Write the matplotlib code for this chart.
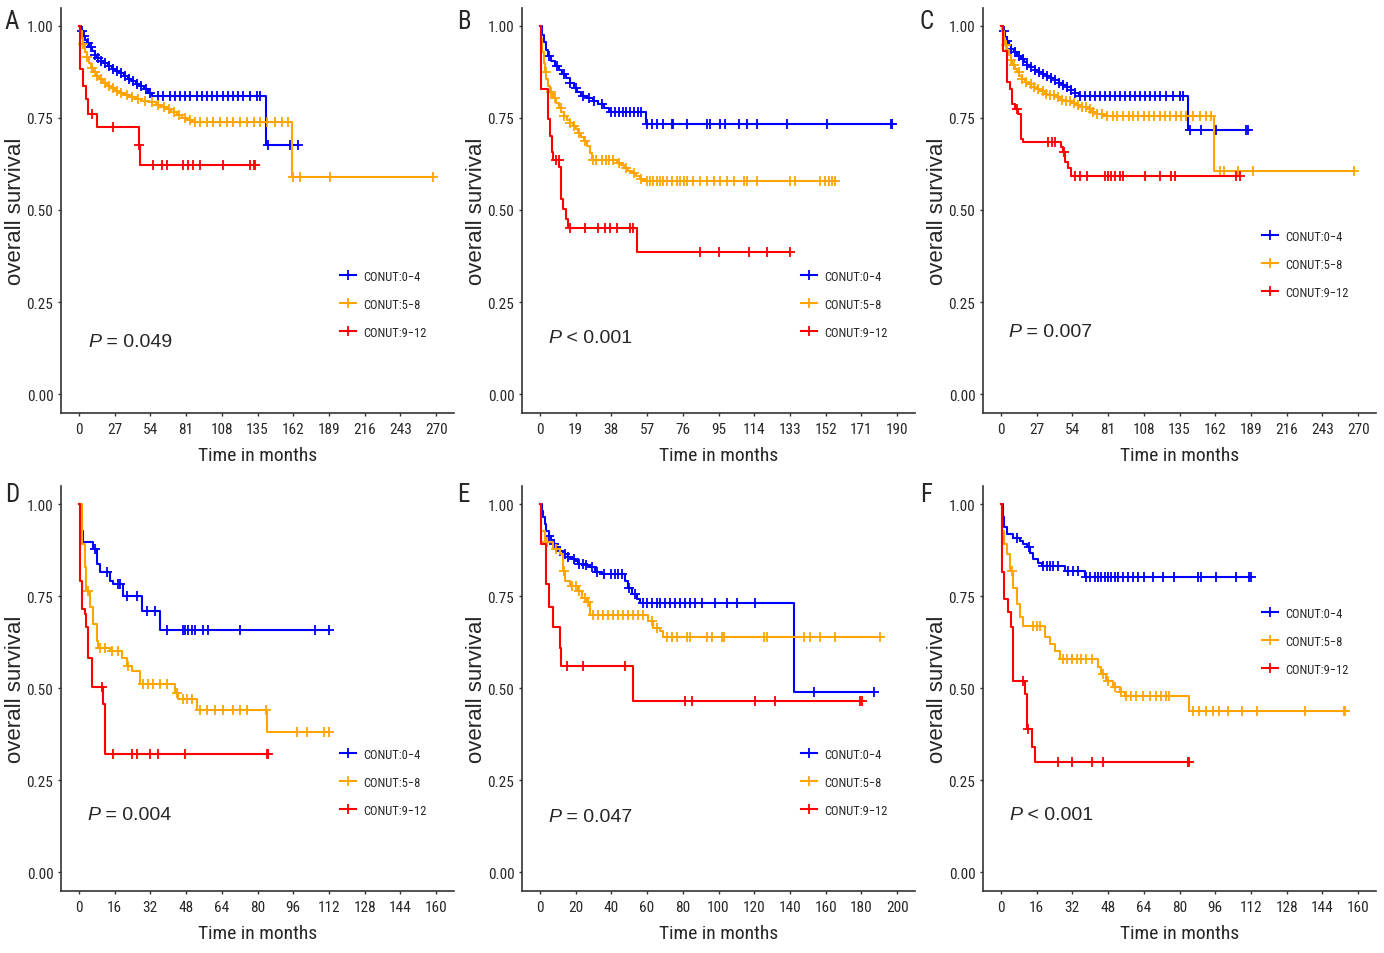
import numpy as np
import matplotlib
matplotlib.use('Agg')
import matplotlib.pyplot as plt
from matplotlib.lines import Line2D

NARROW = ['Roboto Condensed', 'Liberation Sans', 'DejaVu Sans']
REGULAR = ['Liberation Sans', 'DejaVu Sans']
plt.rcParams['font.family'] = NARROW

# ---- data: step times (months), survival after each step, censor times ----
# Panel A
A_t_04 = [0, 1.5, 3, 4.5, 6, 8, 10, 12, 14, 16.5, 19, 22, 25, 28, 31, 34, 37, 40, 43, 46, 49, 52, 55, 141.3]
A_s_04 = [1, 0.985, 0.972, 0.962, 0.953, 0.943, 0.932, 0.922, 0.913, 0.905, 0.898, 0.890, 0.884, 0.878,
          0.871, 0.864, 0.857, 0.850, 0.843, 0.836, 0.828, 0.819, 0.809, 0.676]
A_c_04 = [2, 4, 7, 9.5, 12, 14.5, 17, 20, 23, 26, 29, 32, 35, 38, 41, 44, 47, 51, 54, 60, 63.8, 68.9, 72.7,
          76.4, 80.2, 84, 89, 92.8, 96.6, 100.4, 104.2, 109.2, 113, 116.8, 120.6, 124.4, 129.4, 134.5, 137,
          143.3, 159.7, 165.3]
A_t_58 = [0, 1, 2, 3, 4.5, 6, 7.5, 9, 11, 13, 15.5, 18, 21, 24, 27, 30, 34, 38, 43, 48, 53, 58, 62, 66, 70,
          74, 78, 82, 86, 161]
A_s_58 = [1, 0.985, 0.968, 0.950, 0.930, 0.915, 0.900, 0.886, 0.875, 0.864, 0.855, 0.846, 0.838, 0.831,
          0.824, 0.818, 0.812, 0.806, 0.802, 0.797, 0.792, 0.786, 0.780, 0.773, 0.766, 0.759, 0.751, 0.745,
          0.738, 0.590]
A_c_58 = [3.5, 6.5, 10, 12, 14, 17, 19.5, 22.5, 25.5, 28.5, 32, 36, 40, 45, 50, 55, 60, 64, 68, 72, 76, 80,
          84, 87.8, 91.6, 96.6, 101.7, 106.7, 111.8, 116.8, 121.9, 126.9, 132, 137, 142, 148.4, 153.4, 158.4,
          162.2, 167.3, 190, 267.7]
A_t_912 = [0, 0.8, 2.8, 5.3, 7.1, 13.9, 45.5, 46.5]
A_s_912 = [1, 0.883, 0.838, 0.802, 0.761, 0.725, 0.677, 0.621]
A_c_912 = [10, 26, 45.8, 56.3, 62.6, 66.4, 79, 82.8, 86.5, 91.6, 109.2, 129.4, 132, 133.2]

# Panel B
B_t_04 = [0, 1, 2, 3, 4.5, 6, 8, 10, 12, 14, 16, 18, 20, 22, 25, 28, 31, 34, 37, 56.5]
B_s_04 = [1, 0.975, 0.955, 0.935, 0.918, 0.905, 0.892, 0.880, 0.870, 0.858, 0.845, 0.832, 0.820, 0.810,
          0.803, 0.796, 0.788, 0.778, 0.765, 0.734]
B_c_04 = [5, 9, 13, 16, 19, 23, 26, 29, 33, 38, 40, 42, 44, 46, 48, 50, 52, 54, 56.8, 59.5, 62.2, 65.7,
          70.2, 71, 78.1, 88.8, 90.6, 95.9, 98.6, 105.7, 110.1, 115.4, 131.4, 152.7, 186.5, 187.4]
B_t_58 = [0, 0.7, 1.4, 2, 2.7, 3.5, 4.4, 5.5, 7, 8.5, 10, 11.5, 13, 14.5, 16, 17.5, 19, 20.5, 22, 23.5, 25,
          26.5, 27.5, 41, 43, 45, 47, 49, 51, 53, 55]
B_s_58 = [1, 0.965, 0.930, 0.900, 0.875, 0.855, 0.838, 0.820, 0.803, 0.790, 0.778, 0.766, 0.755, 0.745,
          0.737, 0.729, 0.720, 0.710, 0.699, 0.688, 0.673, 0.655, 0.636, 0.628, 0.621, 0.614, 0.607, 0.600,
          0.592, 0.585, 0.578]
B_c_58 = [3, 6, 8, 11, 13, 16, 18, 21, 24, 28.5, 30, 33, 35, 37, 39, 42, 46, 50, 54, 56.8, 58.6, 60.4, 62.2,
          63.9, 65.7, 67.5, 70.2, 72.8, 74.6, 76.4, 78.1, 81.7, 85.2, 88.8, 92.4, 95.9, 99.5, 103, 108.3,
          110.1, 115.4, 133.2, 135.9, 149.2, 151.9, 153.6, 155.4, 157.2]
B_t_912 = [0, 0.4, 4.4, 5.3, 6.2, 7.1, 10.3, 11.5, 12.4, 13.9, 15.1, 51.9]
B_s_912 = [1, 0.829, 0.748, 0.700, 0.658, 0.635, 0.617, 0.531, 0.504, 0.476, 0.452, 0.387]
B_c_912 = [8.5, 10, 16, 24, 31.1, 34.6, 37.3, 40.8, 48, 49.7, 85.2, 95, 111, 120.8, 132.8]

# Panel C
C_t_04 = [0, 1.5, 3, 4.5, 6, 8, 10, 12.5, 15, 17.5, 20, 23, 26, 29, 32, 35, 38, 41, 44, 47, 50, 53, 56, 59,
          141.4]
C_s_04 = [1, 0.985, 0.970, 0.958, 0.948, 0.938, 0.928, 0.919, 0.910, 0.902, 0.895, 0.888, 0.881, 0.875,
          0.869, 0.864, 0.858, 0.852, 0.846, 0.840, 0.834, 0.826, 0.818, 0.809, 0.718]
C_c_04 = [2, 5, 8, 11, 14, 17, 20, 23, 26, 29, 32, 35, 38, 41, 44, 47, 50, 53, 56, 59.8, 63.6, 67.3, 71.1,
          74.9, 78.6, 82.4, 86.2, 89.9, 93.7, 97.5, 101.2, 105, 108.8, 112.5, 116.3, 120.1, 125.1, 130.1,
          135.1, 137.7, 142.7, 151.4, 162.8, 185.4, 186.6]
C_t_58 = [0, 1, 2, 3.3, 4.5, 6, 7.5, 9, 10.5, 12, 14, 16, 18, 20, 23, 26, 29, 33, 37, 41, 45, 49, 53, 57,
          61, 65, 69, 73, 77, 161]
C_s_58 = [1, 0.985, 0.966, 0.947, 0.935, 0.920, 0.907, 0.895, 0.884, 0.874, 0.864, 0.855, 0.848, 0.842,
          0.835, 0.828, 0.822, 0.816, 0.811, 0.806, 0.800, 0.795, 0.790, 0.784, 0.779, 0.773, 0.767, 0.761,
          0.755, 0.606]
C_c_58 = [4, 7.5, 10, 13.5, 16, 19, 22.5, 25, 28, 31.5, 34, 37, 40.5, 43, 46, 49.5, 52, 55, 58.5, 61, 64,
          67.5, 70, 73, 76.5, 80, 84.5, 88, 92, 96.5, 100, 104, 108.5, 112, 116, 120.5, 124, 128, 132.5, 136,
          140, 145, 150.5, 155, 159, 165.3, 169, 179, 190.4, 267]
C_t_912 = [0, 1.5, 5, 7, 8.3, 10.8, 13.3, 15.1, 16.6, 45.5, 46.7, 48.5, 51, 52.8]
C_s_912 = [1, 0.933, 0.847, 0.829, 0.788, 0.775, 0.761, 0.694, 0.685, 0.670, 0.658, 0.631, 0.613, 0.593]
C_c_912 = [12, 35.9, 38.4, 40.9, 47.5, 56, 59.8, 64.8, 78.6, 81.1, 83.6, 86.2, 89.9, 92.4, 108.8, 120.1,
           128.9, 131.4, 177.9, 180.4]

# Panel D
D_t_04 = [0, 0.75, 1.2, 1.9, 6.4, 7.9, 9.4, 13.9, 15.4, 19.6, 28.1, 36.3]
D_s_04 = [1, 0.964, 0.928, 0.896, 0.878, 0.837, 0.814, 0.791, 0.782, 0.751, 0.710, 0.658]
D_c_04 = [7.2, 12.4, 17.6, 18.4, 21.4, 25.9, 30.3, 34.1, 39.3, 46.8, 47.5, 49, 50.5, 52, 55.8, 58, 72.2,
          105.8, 111.8]
D_t_58 = [0, 1.2, 2.7, 3.4, 4.9, 6.4, 7.9, 8.7, 13.9, 19.1, 21.4, 23.6, 27.4, 43.1, 44.6, 52.8, 84.2]
D_s_58 = [1, 0.891, 0.828, 0.764, 0.719, 0.674, 0.629, 0.610, 0.601, 0.583, 0.560, 0.547, 0.511, 0.488,
          0.470, 0.441, 0.380]
D_c_58 = [4.2, 9.4, 11.7, 14.7, 17.6, 22.1, 28.9, 31.1, 33.3, 36.3, 39.3, 43.8, 46.8, 48.3, 50.5, 54.3,
          57.3, 61, 64.7, 69.2, 72.2, 75.2, 83.8, 97.6, 102.1, 109.6, 111.8]
D_t_912 = [0, 0.4, 1.2, 2.7, 3.4, 4.2, 5.7, 10.6, 11.7]
D_s_912 = [1, 0.792, 0.715, 0.701, 0.665, 0.583, 0.502, 0.457, 0.320]
D_c_912 = [10.2, 15.4, 23.6, 25.9, 31.8, 35.6, 47.5, 84.2, 84.9]

# Panel E
E_t_04 = [0, 1, 1.9, 2.8, 3.7, 5, 6.5, 8, 9.3, 11, 13.1, 15.5, 17.8, 19.5, 21.5, 25, 28, 30.8, 34.6, 47.7,
          49.5, 51.4, 54.2, 56.1, 142]
E_s_04 = [1, 0.982, 0.964, 0.945, 0.928, 0.914, 0.901, 0.891, 0.882, 0.873, 0.864, 0.857, 0.851, 0.844,
          0.837, 0.833, 0.828, 0.814, 0.810, 0.791, 0.773, 0.755, 0.742, 0.731, 0.490]
E_c_04 = [5, 8, 11, 14, 16, 19, 22, 24, 26, 29, 32, 36, 40, 42, 44, 46, 50, 53, 57.9, 59.8, 62.6, 65.4,
          67.3, 70.1, 72.9, 75.7, 78.5, 81.3, 84.1, 86.9, 90.6, 98.1, 104.7, 110.3, 120.5, 153.3, 186.9]
E_t_58 = [0, 0.9, 2.8, 7.5, 11.2, 12.7, 14, 16.8, 21.5, 23.4, 26.2, 28, 60.7, 63.5, 67.3, 69.2]
E_s_58 = [1, 0.928, 0.896, 0.878, 0.864, 0.819, 0.791, 0.777, 0.764, 0.746, 0.733, 0.698, 0.683, 0.664,
          0.655, 0.638]
E_c_58 = [4, 9, 13.5, 18, 20, 22, 25, 27, 29.9, 32.7, 35.5, 38.3, 41.1, 43.9, 46.7, 49.5, 52.3, 55.1, 57.9,
          62.6, 65.4, 71, 73.8, 76.6, 82.2, 84.1, 93.4, 96.3, 101.9, 102.8, 125.2, 127.1, 147.6, 151.4, 157,
          165.4, 190.6]
E_t_912 = [0, 0.6, 0.9, 3.4, 5.2, 7.1, 11.2, 12.1, 52.3]
E_s_912 = [1, 0.937, 0.891, 0.783, 0.719, 0.665, 0.610, 0.560, 0.464]
E_c_912 = [15, 24.3, 47.7, 81.3, 85, 120.5, 131.8, 179.4, 180.4]

# Panel F
F_t_04 = [0, 0.9, 1.5, 2.7, 5.6, 8.6, 10.1, 11.6, 13.1, 14.6, 16.8, 18.3, 28.7, 37.6]
F_s_04 = [1, 0.964, 0.937, 0.918, 0.909, 0.900, 0.891, 0.882, 0.868, 0.850, 0.841, 0.832, 0.819, 0.801]
F_c_04 = [7.1, 12.5, 19, 20.5, 22, 23.5, 25.7, 30.2, 32.4, 34.6, 38.3, 39.8, 42.1, 43.5, 45, 46.5, 48, 49.5,
          51, 52.5, 54.7, 56.9, 59.1, 61.4, 64.3, 68.1, 72.5, 77.7, 88.1, 89.6, 96.3, 105.2, 111.2, 111.9]
F_t_58 = [0, 0.4, 1.2, 2.7, 4.2, 5.6, 7.1, 8.6, 9.8, 19.8, 22, 24.2, 26.5, 43.5, 45, 47.3, 50.2, 53.2, 55.4,
          84.1]
F_s_58 = [1, 0.928, 0.891, 0.864, 0.818, 0.773, 0.728, 0.692, 0.669, 0.638, 0.620, 0.601, 0.579, 0.556,
          0.538, 0.520, 0.502, 0.489, 0.479, 0.438]
F_c_58 = [4.9, 14.6, 16, 17.5, 27.9, 29.4, 31.7, 33.9, 36.1, 38.3, 40.6, 45.8, 48, 50.9, 53.6, 56.2, 58.4,
          60.6, 63.6, 66.6, 69.5, 71.8, 74, 75.5, 85.9, 88.9, 91.8, 94.8, 97.8, 101.5, 108.2, 114.9, 136.4,
          153.5, 154.2]
F_t_912 = [0, 0.4, 1.5, 3.4, 4.5, 5.6, 10.8, 11.6, 13.8, 15.3]
F_s_912 = [1, 0.814, 0.742, 0.706, 0.665, 0.520, 0.484, 0.390, 0.339, 0.298]
F_c_912 = [10.1, 12.3, 25.7, 31.7, 40.6, 45.8, 83.7, 84.4]

letters = ['A', 'B', 'C', 'D', 'E', 'F']
x_max = [270, 190, 270, 160, 200, 160]
x_step = [27, 19, 27, 16, 20, 16]
p_text = [' = 0.049', ' < 0.001', ' = 0.007', ' = 0.004', ' = 0.047', ' < 0.001']
group_labels = ['CONUT:0\u22124', 'CONUT:5\u22128', 'CONUT:9\u221212']
colors = ['#0000FF', '#FFA500', '#FF0000']

curves = {
    'A': [(A_t_04, A_s_04, A_c_04), (A_t_58, A_s_58, A_c_58), (A_t_912, A_s_912, A_c_912)],
    'B': [(B_t_04, B_s_04, B_c_04), (B_t_58, B_s_58, B_c_58), (B_t_912, B_s_912, B_c_912)],
    'C': [(C_t_04, C_s_04, C_c_04), (C_t_58, C_s_58, C_c_58), (C_t_912, C_s_912, C_c_912)],
    'D': [(D_t_04, D_s_04, D_c_04), (D_t_58, D_s_58, D_c_58), (D_t_912, D_s_912, D_c_912)],
    'E': [(E_t_04, E_s_04, E_c_04), (E_t_58, E_s_58, E_c_58), (E_t_912, E_s_912, E_c_912)],
    'F': [(F_t_04, F_s_04, F_c_04), (F_t_58, F_s_58, F_c_58), (F_t_912, F_s_912, F_c_912)],
}

# layout (figure pixels -> fractions)
W, H = 1384, 954
col_left = [61, 522, 983]
row_top = [8.5, 486.6]
ax_w, ax_h = 393, 405
legend_y = [0.267, 0.267, 0.366, 0.268, 0.268, 0.616]
p_pos = [(0.069, 0.176), (0.066, 0.186), (0.064, 0.199), (0.066, 0.189), (0.066, 0.182), (0.066, 0.189)]
letter_x = [5, 457, 920]
letter_y = [22, 495]

TXT = '#262626'
AXC = '#333333'


def km(ax, t, s, cens, color):
    t = np.asarray(t, float)
    s = np.asarray(s, float)
    cens = np.asarray(cens, float)
    end = max(t[-1], cens.max())
    ax.step(np.append(t, end), np.append(s, s[-1]), where='post', color=color, lw=1.5)
    idx = np.searchsorted(t, cens, side='right') - 1
    ax.plot(cens, s[idx], ls='none', marker='+', ms=7, mew=1.3, color=color)


fig = plt.figure(figsize=(W / 100, H / 100), dpi=100)

for i, L in enumerate(letters):
    r, c = divmod(i, 3)
    left = col_left[c] / W
    bottom = 1 - (row_top[r] + ax_h) / H
    ax = fig.add_axes([left, bottom, ax_w / W, ax_h / H])

    for (t, s, cens), col in zip(curves[L], colors):
        km(ax, t, s, cens, col)

    xm = x_max[i]
    ax.set_xlim(-0.05 * xm, 1.05 * xm)
    ax.set_ylim(-0.05, 1.05)
    ax.set_xticks(np.arange(0, xm + 1, x_step[i]))
    ax.set_yticks([0, 0.25, 0.5, 0.75, 1.0])
    ax.set_yticklabels(['0.00', '0.25', '0.50', '0.75', '1.00'])
    for sp in ['top', 'right']:
        ax.spines[sp].set_visible(False)
    for sp in ['left', 'bottom']:
        ax.spines[sp].set_color(AXC)
        ax.spines[sp].set_linewidth(1.2)
    ax.tick_params(length=2.5, width=1.0, color=AXC, labelsize=11, labelcolor=TXT)
    ax.tick_params(axis='x', pad=4.5)
    ax.tick_params(axis='y', pad=3)

    ax.set_xlabel('Time in months', fontsize=14, color=TXT)
    ax.xaxis.set_label_coords(0.5, -0.083)
    ax.set_ylabel('overall survival', fontsize=16, color=TXT, family=REGULAR)
    ax.yaxis.set_label_coords(-0.088, 0.5)

    handles = [Line2D([], [], color=col, lw=1.5, marker='+', ms=7, mew=1.3) for col in colors]
    leg = ax.legend(handles, group_labels, loc='center left', bbox_to_anchor=(0.71, legend_y[i]),
                    frameon=False, fontsize=9, handlelength=1.3, handletextpad=0.55,
                    labelspacing=1.2, borderpad=0, borderaxespad=0)
    for tx in leg.get_texts():
        tx.set_color(TXT)

    px, py = p_pos[i]
    tp = ax.text(px, py, 'P', style='italic', fontsize=14, family=REGULAR, color=TXT,
                 transform=ax.transAxes, va='center', ha='left')
    ax.annotate(p_text[i], xy=(1, 0), xycoords=tp, va='bottom', ha='left',
                fontsize=14, family=REGULAR, color=TXT)

    fig.text(letter_x[c] / W, 1 - letter_y[r] / H, L, fontsize=18, color=TXT, va='center', ha='left')

fig.savefig('out.png', dpi=100)
